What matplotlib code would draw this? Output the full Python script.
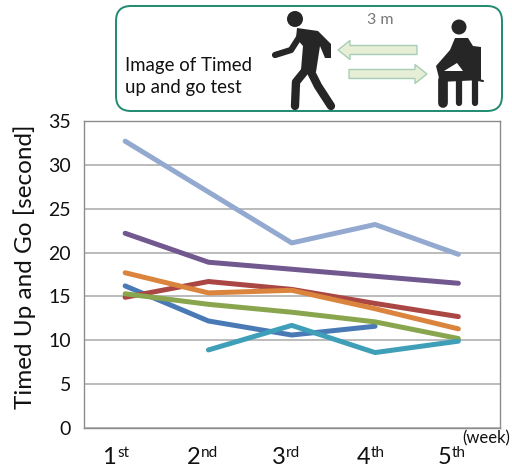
import matplotlib
matplotlib.use('Agg')
import matplotlib.pyplot as plt
from matplotlib.patches import FancyBboxPatch, Circle, Polygon, FancyArrow

plt.rcParams['font.family'] = ['Lato', 'DejaVu Sans']

weeks = ['1', '2', '3', '4', '5']
suffix = ['st', 'nd', 'rd', 'th', 'th']
yticks = [0, 5, 10, 15, 20, 25, 30, 35]

# None = not measured that week
blue = [16.2, 12.2, 10.6, 11.6, None]
red = [14.9, 16.7, 15.8, 14.2, 12.7]
green = [15.3, 14.1, 13.2, 12.1, 10.2]
purple = [22.2, 18.9, 18.1, 17.3, 16.5]
teal = [None, 8.9, 11.7, 8.6, 9.9]
orange = [17.7, 15.4, 15.7, 13.6, 11.3]
light_blue = [32.7, 26.9, 21.1, 23.2, 19.8]

series = [(blue, '#4a7ab5'), (red, '#aa4643'), (green, '#89a54e'),
          (purple, '#71588f'), (teal, '#3f9fb8'), (orange, '#db843d'),
          (light_blue, '#93a9cf')]

W, H = 512, 468
fig = plt.figure(figsize=(W / 100, H / 100), dpi=100)

ax = fig.add_axes([83.5 / W, 1 - 428 / H, 416.5 / W, 307 / H])
xs = [0.5, 1.5, 2.5, 3.5, 4.5]
for vals, col in series:
    px = [x for x, v in zip(xs, vals) if v is not None]
    py = [v for v in vals if v is not None]
    ax.plot(px, py, color=col, lw=3.6, solid_capstyle='round', solid_joinstyle='round')

ax.set_xlim(0, 5)
ax.set_ylim(0, 35)
ax.set_yticks(yticks)
ax.set_xticks([])
ax.tick_params(axis='y', length=0, labelsize=14, pad=9, labelcolor='#111111')
ax.grid(axis='y', color='#a8a8a8', lw=1.1)
ax.set_axisbelow(True)
for s in ax.spines.values():
    s.set_color('#8c8c8c')
    s.set_linewidth(1.0)

fig.text(25 / W, 1 - 267 / H, 'Timed Up and Go [second]', rotation=90, fontsize=17.5,
         ha='center', va='center', color='#111111')

# week labels with raised suffix
for x, w, s, sx in zip([102, 187, 272, 357, 438], weeks, suffix, [117, 201, 286, 371, 452]):
    fig.text(x / W, 1 - 464 / H, w, fontsize=17, ha='left', va='baseline', color='#111111')
    fig.text(sx / W, 1 - 457 / H, s, fontsize=11, ha='left', va='baseline', color='#111111')
fig.text(510 / W, 1 - 443 / H, '(week)', fontsize=12, ha='right', va='baseline', color='#111111')

# overlay in pixel coords for the test illustration
ov = fig.add_axes([0, 0, 1, 1], facecolor='none')
ov.set_xlim(0, W)
ov.set_ylim(H, 0)
ov.axis('off')
ov.add_patch(FancyBboxPatch((116, 6), 386, 105, boxstyle='round,pad=0,rounding_size=15',
                            fc='white', ec='#1f8a70', lw=1.4))
ov.text(125, 65, 'Image of Timed', fontsize=13.4, va='center', color='#111111')
ov.text(125, 88, 'up and go test', fontsize=13.4, va='center', color='#111111')
ov.text(380, 20, '3 m', fontsize=11.5, ha='center', va='center', color='#777777')

dark = '#262626'
# walking figure
ov.add_patch(Circle((295, 19), 8, fc=dark, ec='none'))
ov.add_patch(Polygon([(297, 28), (318, 31), (331, 44), (331, 58), (325, 58), (320, 46),
                      (316, 72), (301, 70), (303, 46), (296, 38)],
                     fc=dark, ec='none'))
for pts, lw in [([(300, 36), (291, 50), (275, 55)], 4.5),
                ([(309, 66), (296, 82), (295, 106)], 6),
                ([(309, 68), (318, 86), (331, 106)], 6)]:
    ov.plot([p[0] for p in pts], [p[1] for p in pts], color=dark, lw=lw,
            solid_capstyle='round', solid_joinstyle='round')

# seated figure
ov.add_patch(Circle((459, 27), 7.5, fc=dark, ec='none'))
ov.add_patch(Polygon([(455, 38), (468, 38), (473, 46), (481, 47), (481, 80), (440, 82),
                      (436, 66), (450, 50)],
                     fc=dark, ec='none'))
ov.add_patch(Polygon([(444, 71), (457, 63), (463, 71)], fc='white', ec='none'))
for pts, lw in [([(443, 80), (443, 103)], 7), ([(459, 80), (459, 103)], 4.5),
                ([(475, 80), (475, 103)], 4.5), ([(478, 80), (483, 81)], 1.5)]:
    ov.plot([p[0] for p in pts], [p[1] for p in pts], color=dark, lw=lw, solid_capstyle='round')

# arrows between them
ov.add_patch(FancyArrow(417, 50, -79, 0, width=9, head_width=19, head_length=12,
                        length_includes_head=True, fc='#e6eed6', ec='#a9cdb4', lw=1))
ov.add_patch(FancyArrow(349, 74, 78, 0, width=9, head_width=19, head_length=12,
                        length_includes_head=True, fc='#e6eed6', ec='#a9cdb4', lw=1))

fig.savefig('out.png', dpi=100)
